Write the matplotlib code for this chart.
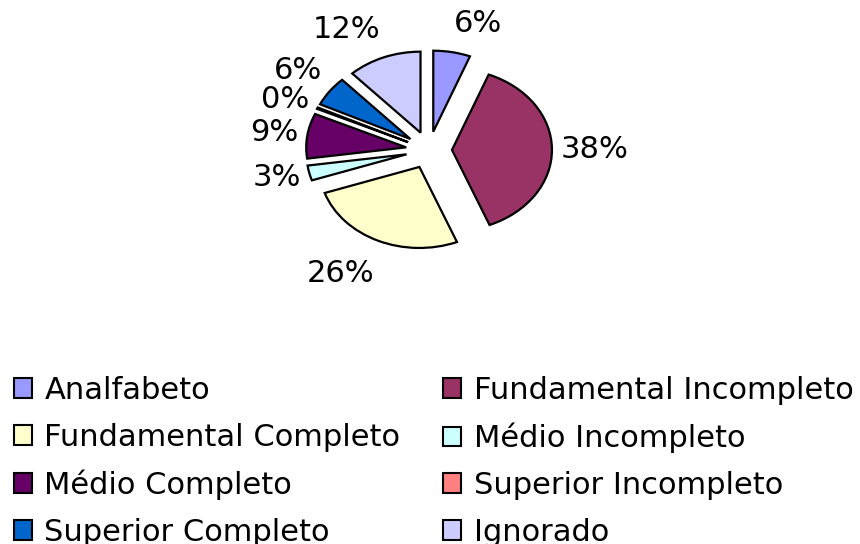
import numpy as np
import matplotlib.pyplot as plt
from matplotlib.patches import Patch

categories = [
    "Analfabeto",
    "Fundamental Incompleto",
    "Fundamental Completo",
    "Médio Incompleto",
    "Médio Completo",
    "Superior Incompleto",
    "Superior Completo",
    "Ignorado",
]
shares = [6, 38, 26, 3, 9, 0.3, 6, 12]
pct_labels = ["6%", "38%", "26%", "3%", "9%", "0%", "6%", "12%"]
colors = ["#9999FF", "#993366", "#FFFFCC", "#CCFFFF",
          "#660066", "#FF8080", "#0066CC", "#CCCCFF"]

plt.rcParams["font.family"] = ["DejaVu Sans"]

fig = plt.figure(figsize=(8.6, 5.44), dpi=100)
ax = fig.add_axes([0.3244, 0.5009, 0.3488, 0.4467])

explode = 0.23
wedges, _ = ax.pie(
    shares,
    colors=colors,
    startangle=90,
    counterclock=False,
    explode=[explode] * len(shares),
    wedgeprops=dict(edgecolor="black", linewidth=1.6),
)
ax.set_aspect("auto")
ax.set_xlim(-1.5, 1.5)
ax.set_ylim(-1.5, 1.5)

# percent labels outside each slice, Excel style
for w, lab in zip(wedges, pct_labels):
    mid = np.deg2rad((w.theta1 + w.theta2) / 2)
    c, s = np.cos(mid), np.sin(mid)
    ha = "left" if c > 0 else "right"
    if s > 0.5:
        va = "baseline"
    elif s < -0.5:
        va = "top"
    else:
        va = "center"
    ax.text(1.32 * c, 1.48 * s, lab, ha=ha, va=va, fontsize=22, clip_on=False)

order = [0, 2, 4, 6, 1, 3, 5, 7]
handles = [Patch(facecolor=colors[i], edgecolor="black", linewidth=1.5,
                 label=categories[i]) for i in order]
fig.legend(
    handles=handles,
    ncol=2,
    loc="upper left",
    bbox_to_anchor=(0.016, 0.309),
    frameon=False,
    fontsize=22,
    handlelength=0.6,
    handleheight=0.6,
    handletextpad=0.4,
    labelspacing=0.58,
    columnspacing=1.4,
    borderpad=0,
    borderaxespad=0,
)

fig.savefig("out.png", dpi=100)
